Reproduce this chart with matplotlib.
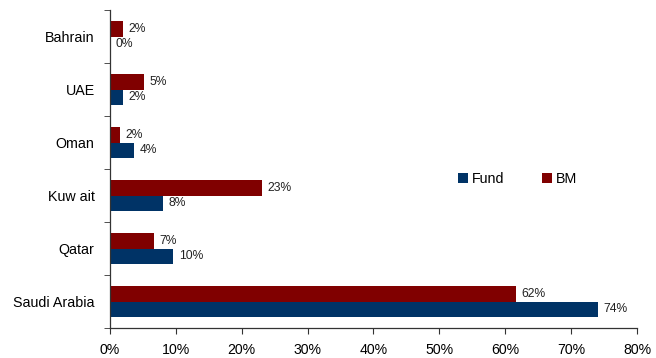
import numpy as np
import matplotlib.pyplot as plt
from matplotlib.ticker import FixedLocator

plt.rcParams['font.family'] = ['Liberation Sans', 'DejaVu Sans']

countries = ['Saudi Arabia', 'Qatar', 'Kuw ait', 'Oman', 'UAE', 'Bahrain']
fund = [74.1, 9.6, 8.0, 3.7, 2.0, 0.0]
bm = [61.6, 6.7, 23.1, 1.5, 5.2, 1.9]
xticks = [0, 10, 20, 30, 40, 50, 60, 70, 80]

fund_col = '#003366'
bm_col = '#800000'

fig = plt.figure(figsize=(6.56, 3.58), dpi=100)
ax = fig.add_axes([0.1677, 0.0838, 0.8033, 0.8882])

y = np.arange(len(countries))
h = 0.30
b1 = ax.barh(y - h / 2, fund, height=h, color=fund_col, label='Fund')
b2 = ax.barh(y + h / 2, bm, height=h, color=bm_col, label='BM')

for bars, vals in ((b1, fund), (b2, bm)):
    ax.bar_label(bars, labels=['%d%%' % round(v) for v in vals],
                 padding=4, fontsize=8.7, color='#222222')

ax.set_xlim(0, 80)
ax.set_ylim(-0.5, len(countries) - 0.5)
ax.set_xticks(xticks)
ax.set_xticklabels(['%d%%' % t for t in xticks], fontsize=10.2)

# category labels in the middle, tick marks on the boundaries
ax.set_yticks(y)
ax.set_yticklabels(countries, fontsize=10.3)
ax.yaxis.set_minor_locator(FixedLocator(np.arange(-0.5, len(countries), 1.0)))
ax.tick_params(axis='y', which='major', length=0, pad=11)
ax.tick_params(axis='y', which='minor', length=4, direction='out', color='#333333')
ax.tick_params(axis='x', length=4, direction='out', color='#333333', pad=6.5)

for s in ('top', 'right'):
    ax.spines[s].set_visible(False)
for s in ('left', 'bottom'):
    ax.spines[s].set_color('#333333')
    ax.spines[s].set_linewidth(0.9)

ax.legend(loc='center left', bbox_to_anchor=(0.635, 0.47), ncol=2, frameon=False,
          fontsize=10.3, handlelength=0.7, handleheight=0.7, handletextpad=0.3,
          columnspacing=2.6)

fig.savefig('out.png', dpi=100)
